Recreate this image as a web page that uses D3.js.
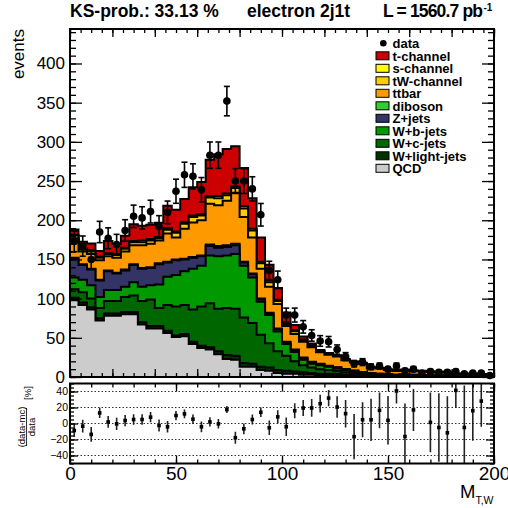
<!DOCTYPE html>
<html>
<head>
<meta charset="utf-8">
<script src="https://cdn.jsdelivr.net/npm/d3@7"></script>
<style>
  body { margin: 0; background: #fff; }
  svg { display: block; }
</style>
</head>
<body>
<script>
// M_T,W bins: 50 bins of width 4 from 0 to 200
const bins = d3.range(0, 200, 4)
const binWidth = 4

const data = [173, 167, 150, 185, 177, 169, 187, 205, 203, 211,
  192, 210, 237, 258, 256, 239, 283, 283, 352, 250,
  250, 240, 207, 136, 124, 79, 79, 64, 53, 46,
  45, 35, 26, 17, 19, 13, 14, 10, 14, 8,
  10, 5, 7, 6, 6, 7, 4, 5, 5, 2]

const qcd = [98, 92, 86, 72, 78, 78, 80, 80, 67, 62,
  62, 56, 51, 52, 42, 37, 35, 29, 23, 22,
  13, 13, 9, 8, 5, 4, 4, 3, 3, 2,
  2, 2, 1.5, 1.5, 1, 1, 0.5, 0.5, 0.4, 0.4,
  0.3, 0.3, 0.2, 0.2, 0.2, 0.1, 0.1, 0.1, 0.1, 0.1]
const wlight = [3, 3, 3, 3, 3, 3, 3, 3, 3, 3,
  3, 3, 2, 3, 3, 3, 3, 4, 5, 5,
  5, 4, 4, 4, 4, 4, 3, 3, 2, 2,
  2, 2, 1.5, 1, 1, 1, 0.8, 0.7, 0.6, 0.7,
  0.6, 0.5, 0.4, 0.4, 0.4, 0.3, 0.3, 0.3, 0.2, 0.2]
const wc = [11, 13, 11, 13, 16, 16, 19, 21, 27, 34,
  23, 33, 37, 37, 41, 50, 56, 54, 60, 60,
  58, 52, 41, 31, 24, 19, 13, 9, 7, 6,
  5, 4, 3, 2.5, 1.5, 1, 1, 0.8, 0.7, 0.8,
  0.7, 0.6, 0.5, 0.5, 0.5, 0.3, 0.3, 0.3, 0.3, 0.3]
const wb = [15, 16, 17, 14, 14, 14, 13, 17, 18, 18,
  30, 36, 40, 43, 52, 52, 61, 67, 67, 70,
  66, 58, 42, 36, 25, 15, 12, 7, 5, 5,
  4, 3, 3, 2, 1.5, 1, 1, 0.8, 0.7, 0.8,
  0.7, 0.6, 0.5, 0.5, 0.5, 0.3, 0.3, 0.3, 0.3, 0.3]
const zjets = [24, 19, 20, 21, 24, 21, 21, 22, 23, 22,
  26, 18, 19, 15, 14, 12, 12, 11, 11, 11,
  4, 4, 3, 2, 3, 2, 2, 2, 2, 1.5,
  1, 1, 1, 1, 1, 0.8, 0.7, 0.6, 0.5, 0.6,
  0.5, 0.4, 0.4, 0.3, 0.4, 0.2, 0.2, 0.2, 0.2, 0.2]
const diboson = [1, 1, 1, 1, 1, 1, 1, 1, 1, 1,
  1, 1, 1, 1, 1, 1, 2, 2, 2, 2,
  1, 1, 1, 1, 1, 1, 1, 1, 0.5, 0.5,
  0.5, 0.5, 0.3, 0.3, 0.3, 0.2, 0.2, 0.2, 0.1, 0.1,
  0.1, 0.1, 0.1, 0.1, 0.1, 0.1, 0.1, 0.1, 0.1, 0.1]
const ttbar = [25, 16, 19, 25, 18, 19, 23, 24, 29, 30,
  29, 36, 28, 38, 44, 45, 52, 52, 57, 65,
  57, 46, 38, 33, 31, 20, 20, 20, 18.5, 14.5,
  14, 13.5, 11.2, 10.2, 10.2, 6.3, 6.5, 5.2, 4.6, 5.2,
  4.7, 4.9, 4.3, 3.9, 4.1, 2.5, 2.6, 2.6, 2.2, 2.3]
const tw = [3.5, 2.5, 3, 3, 3, 3.5, 3.5, 4, 4, 4,
  3, 5, 6, 6.5, 7, 6, 8, 9, 7, 6,
  11, 9, 7, 6, 4, 2, 3.5, 2, 1.5, 1,
  1, 0.8, 0.7, 0.7, 0.7, 0.5, 0.5, 0.4, 0.4, 0.4,
  0.4, 0.3, 0.3, 0.2, 0.3, 0.2, 0.2, 0.2, 0.1, 0.1]
const schan = [1, 1, 1.5, 1.5, 1, 1.5, 1.5, 1.5, 2, 2,
  1.5, 2, 1.5, 2, 2, 2, 2, 3, 2, 2,
  3, 2, 2, 2, 1.5, 1, 1.5, 1, 1, 0.5,
  0.5, 0.3, 0.2, 0.2, 0.3, 0.2, 0.2, 0.1, 0.1, 0.1,
  0.1, 0.1, 0.1, 0.1, 0.1, 0, 0, 0, 0, 0]
const tchan = [6.6, 9.0, 8.9, 7.1, 15.5, 12.7, 15.1, 21.3, 18.9, 18.3,
  18.3, 28.6, 28.0, 29.5, 36.2, 40.8, 46.3, 53.1, 56.8, 51.5,
  48.5, 39.0, 31.0, 20.3, 15.2, 14.2, 6.4, 3.6, 2.2, 1.6,
  0.7, 0.7, 0.4, 0.4, 0.6, 0.4, 0.3, 0.3, 0.2, 0.2,
  0.2, 0.2, 0.1, 0.1, 0.1, 0.1, 0.1, 0.1, 0.1, 0.1]

// stack order, bottom to top
const keys = ['qcd', 'wlight', 'wc', 'wb', 'zjets', 'diboson', 'ttbar', 'tw', 'schan', 'tchan']
const series = {qcd, wlight, wc, wb, zjets, diboson, ttbar, tw, schan, tchan}
const labels = {qcd: 'QCD', wlight: 'W+light-jets', wc: 'W+c-jets', wb: 'W+b-jets', zjets: 'Z+jets',
  diboson: 'diboson', ttbar: 'ttbar', tw: 'tW-channel', schan: 's-channel', tchan: 't-channel'}
const colors = {qcd: '#cccccc', wlight: '#003300', wc: '#006600', wb: '#009900', zjets: '#333366',
  diboson: '#33cc33', ttbar: '#ff9900', tw: '#ffcc00', schan: '#ffff00', tchan: '#cc0000'}

const yTicks = d3.range(0, 401, 50)
const ratioTicks = [-40, -20, 0, 20, 40]
const xLabels = [0, 50, 100, 150, 200]

const svg = d3.select('body').append('svg')
  .attr('width', 508)
  .attr('height', 508)
  .style('font-family', "'Liberation Sans', Arial, Helvetica, sans-serif")

const x = d3.scaleLinear().domain([0, 200]).range([70, 494])
const y = d3.scaleLinear().domain([0, 444]).range([377, 29])
const yr = d3.scaleLinear().domain([-50, 50]).range([463.5, 383.5])

const rows = bins.map((b, i) => {
  let r = {}
  keys.forEach(k => { r[k] = series[k][i] })
  return r
})
const stacked = d3.stack().keys(keys)(rows)
const mcTotal = stacked[stacked.length - 1].map(d => d[1])

svg.append('clipPath').attr('id', 'mainclip')
  .append('rect').attr('x', 70).attr('y', 29).attr('width', 424).attr('height', 348)
svg.append('clipPath').attr('id', 'ratioclip')
  .append('rect').attr('x', 70).attr('y', 383.5).attr('width', 424).attr('height', 80)

// ---- main pad ----
let step = d3.line().x(p => x(p[0])).y(p => y(p[1]))
let stepPoints = tops => {
  let pts = [[0, 0]]
  tops.forEach((v, i) => { pts.push([bins[i], v], [bins[i] + binWidth, v]) })
  pts.push([200, 0])
  return pts
}

const hist = svg.append('g').attr('clip-path', 'url(#mainclip)')
hist.selectAll('path').data(stacked.slice().reverse()).enter()
  .append('path')
  .attr('d', s => step(stepPoints(s.map(d => d[1]))) + 'Z')
  .attr('fill', s => colors[s.key])
  .attr('stroke', '#000')
  .attr('stroke-width', 2)
  .attr('stroke-linejoin', 'miter')

// data points
const pts = svg.append('g')
pts.selectAll('line.err').data(data).enter()
  .append('line')
  .attr('x1', (d, i) => x(bins[i] + binWidth / 2))
  .attr('x2', (d, i) => x(bins[i] + binWidth / 2))
  .attr('y1', d => y(d - Math.sqrt(d)))
  .attr('y2', d => y(d + Math.sqrt(d)))
  .attr('stroke', '#000').attr('stroke-width', 1.6)
;[1, -1].forEach(sign => {
  pts.selectAll(null).data(data).enter()
    .append('line')
    .attr('x1', (d, i) => x(bins[i] + binWidth / 2) - 3)
    .attr('x2', (d, i) => x(bins[i] + binWidth / 2) + 3)
    .attr('y1', d => y(d + sign * Math.sqrt(d)))
    .attr('y2', d => y(d + sign * Math.sqrt(d)))
    .attr('stroke', '#000').attr('stroke-width', 1.6)
})
pts.selectAll('circle').data(data).enter()
  .append('circle')
  .attr('cx', (d, i) => x(bins[i] + binWidth / 2))
  .attr('cy', d => y(d))
  .attr('r', 3.8)
  .attr('fill', '#000')

let axis = (g, gen) => {
  g.call(gen)
  g.select('.domain').remove()
  g.attr('font-family', null)
  g.selectAll('.tick line').attr('stroke', '#000').attr('stroke-width', 1.3)
  g.selectAll('.tick text').attr('fill', '#000')
}

// main pad axes (ticks inside)
svg.append('g').attr('transform', 'translate(70,0)')
  .call(axis, d3.axisLeft(y).tickValues(d3.range(0, 441, 10)).tickSize(-6).tickFormat(''))
svg.append('g').attr('transform', 'translate(70,0)')
  .call(axis, d3.axisLeft(y).tickValues(yTicks).tickSize(-12).tickPadding(5).tickFormat(d3.format('d')))
  .attr('font-size', 17)
svg.append('g').attr('transform', 'translate(494,0)')
  .call(axis, d3.axisRight(y).tickValues(d3.range(0, 441, 10)).tickSize(-6).tickFormat(''))
svg.append('g').attr('transform', 'translate(494,0)')
  .call(axis, d3.axisRight(y).tickValues(yTicks).tickSize(-12).tickFormat(''))
svg.append('g').attr('transform', 'translate(0,377)')
  .call(axis, d3.axisBottom(x).tickValues(d3.range(0, 201, 5)).tickSize(-4).tickFormat(''))
svg.append('g').attr('transform', 'translate(0,377)')
  .call(axis, d3.axisBottom(x).tickValues(d3.range(0, 201, 20)).tickSize(-8).tickFormat(''))
svg.append('g').attr('transform', 'translate(0,29)')
  .call(axis, d3.axisTop(x).tickValues(d3.range(0, 201, 5)).tickSize(-4).tickFormat(''))
svg.append('g').attr('transform', 'translate(0,29)')
  .call(axis, d3.axisTop(x).tickValues(d3.range(0, 201, 20)).tickSize(-8).tickFormat(''))

svg.append('rect')
  .attr('x', 70).attr('y', 29).attr('width', 424).attr('height', 348)
  .attr('fill', 'none').attr('stroke', '#000').attr('stroke-width', 2)

svg.append('text')
  .attr('transform', 'translate(24,29) rotate(-90)')
  .attr('text-anchor', 'end')
  .attr('font-size', 17)
  .text('events')

// title
const title = svg.append('g').attr('font-weight', 'bold').attr('font-size', 17.5)
title.append('text').attr('x', 70).attr('y', 17).text('KS-prob.: 33.13 %')
title.append('text').attr('x', 247).attr('y', 17).text('electron 2j1t')
title.append('text').attr('x', 383).attr('y', 17)
  .attr('textLength', 100).attr('lengthAdjust', 'spacing')
  .text('L = 1560.7 pb')
title.append('text').attr('x', 483.5).attr('y', 11).attr('font-size', 10).text('-1')

// legend
const legend = svg.append('g').attr('font-weight', 'bold').attr('font-size', 13)
const legendKeys = keys.slice().reverse()
legend.append('circle').attr('cx', 383.3).attr('cy', 43.3).attr('r', 3.3).attr('fill', '#000')
legend.append('text').attr('x', 392.5).attr('y', 48).text('data')
legendKeys.forEach((k, i) => {
  let cy = 43.3 + 12.5 * (i + 1)
  legend.append('rect')
    .attr('x', 376).attr('y', cy - 4).attr('width', 13).attr('height', 8)
    .attr('fill', colors[k]).attr('stroke', '#000').attr('stroke-width', 1)
  legend.append('text').attr('x', 392.5).attr('y', cy + 4.7).text(labels[k])
})

// ---- ratio pad ----
svg.append('g').selectAll('line').data(ratioTicks).enter()
  .append('line')
  .attr('x1', 70).attr('x2', 494)
  .attr('y1', d => yr(d)).attr('y2', d => yr(d))
  .attr('stroke', '#333').attr('stroke-width', 1)
  .attr('stroke-dasharray', '1.5,2')

const ratio = data.map((d, i) => {
  let mc = mcTotal[i]
  return {
    xc: bins[i] + binWidth / 2,
    r: (d - mc) / d * 100,
    e: 100 * mc * Math.sqrt(d) / (d * d)
  }
}).filter(p => p.r >= -50 && p.r <= 50)

const rg = svg.append('g').attr('clip-path', 'url(#ratioclip)')
rg.selectAll('line').data(ratio).enter()
  .append('line')
  .attr('x1', p => x(p.xc)).attr('x2', p => x(p.xc))
  .attr('y1', p => yr(p.r - p.e)).attr('y2', p => yr(p.r + p.e))
  .attr('stroke', '#222').attr('stroke-width', 1.6)
rg.selectAll('rect').data(ratio).enter()
  .append('rect')
  .attr('x', p => x(p.xc) - 1.8).attr('y', p => yr(p.r) - 1.8)
  .attr('width', 3.6).attr('height', 3.6)
  .attr('fill', '#000')

svg.append('g').attr('transform', 'translate(70,0)')
  .call(axis, d3.axisLeft(yr).tickValues(d3.range(-50, 51, 5)).tickSize(-4).tickFormat(''))
svg.append('g').attr('transform', 'translate(70,0)')
  .call(axis, d3.axisLeft(yr).tickValues(ratioTicks).tickSize(-8).tickPadding(2).tickFormat(d3.format('d')))
  .attr('font-size', 10.5)
svg.append('g').attr('transform', 'translate(494,0)')
  .call(axis, d3.axisRight(yr).tickValues(d3.range(-50, 51, 5)).tickSize(-4).tickFormat(''))
svg.append('g').attr('transform', 'translate(494,0)')
  .call(axis, d3.axisRight(yr).tickValues(ratioTicks).tickSize(-8).tickFormat(''))
svg.append('g').attr('transform', 'translate(0,463.5)')
  .call(axis, d3.axisBottom(x).tickValues(d3.range(0, 201, 10)).tickSize(-4).tickFormat(''))
svg.append('g').attr('transform', 'translate(0,463.5)')
  .call(axis, d3.axisBottom(x).tickValues(xLabels).tickSize(-8).tickPadding(3).tickFormat(d3.format('d')))
  .attr('font-size', 19)
svg.append('g').attr('transform', 'translate(0,383.5)')
  .call(axis, d3.axisTop(x).tickValues(d3.range(0, 201, 10)).tickSize(-4).tickFormat(''))
svg.append('g').attr('transform', 'translate(0,383.5)')
  .call(axis, d3.axisTop(x).tickValues(xLabels).tickSize(-8).tickFormat(''))

svg.append('rect')
  .attr('x', 70).attr('y', 383.5).attr('width', 424).attr('height', 80)
  .attr('fill', 'none').attr('stroke', '#000').attr('stroke-width', 2)

// ratio y title: (data-mc)/data [%]
const rt = svg.append('g').attr('transform', 'translate(26.5,427) rotate(-90)').attr('font-size', 9.5)
rt.append('text').attr('x', 0).attr('y', -1.8).attr('text-anchor', 'middle').text('(data-mc)')
rt.append('line').attr('x1', -19).attr('x2', 19).attr('y1', 0).attr('y2', 0)
  .attr('stroke', '#000').attr('stroke-width', 0.8)
rt.append('text').attr('x', 0).attr('y', 8.8).attr('text-anchor', 'middle').text('data')
rt.append('text').attr('x', 34).attr('y', 4).attr('text-anchor', 'middle').text('[%]')

// x title
const xt = svg.append('text').attr('x', 460).attr('y', 498).attr('font-size', 18.5).text('M')
xt.append('tspan').attr('font-size', 10.5).attr('dy', 6).text('T,W')
</script>
</body>
</html>
